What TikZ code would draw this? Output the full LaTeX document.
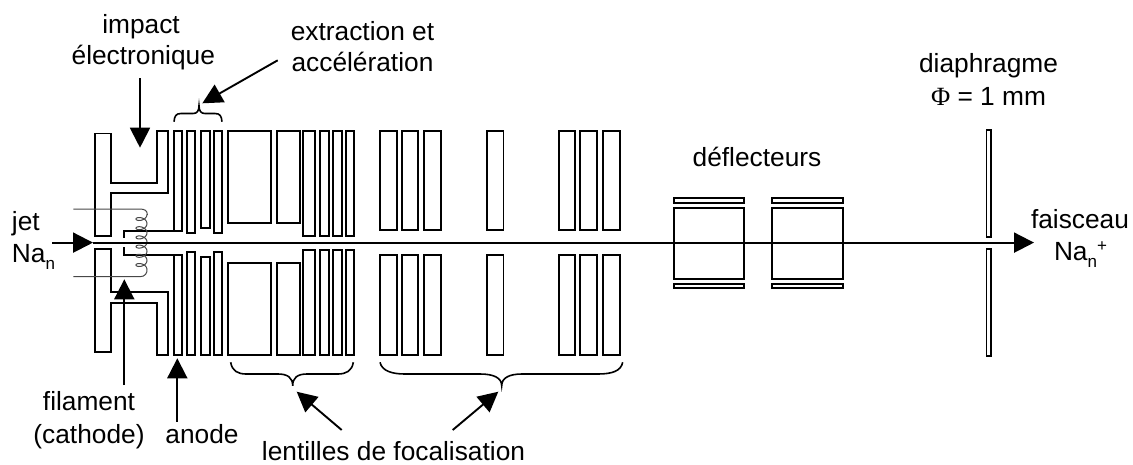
\documentclass[tikz,border=0pt]{standalone}
\usepackage{fontspec}
\setmainfont{Liberation Sans}
\newfontfamily\phifont{Liberation Serif}
\usetikzlibrary{arrows.meta}
\newcommand{\subn}{{\fontsize{17}{17}\selectfont\raisebox{-7pt}{n}}}
\newcommand{\supplus}{{\fontsize{17}{17}\selectfont\raisebox{9pt}{+}}}
\tikzset{
  part/.style={draw=black,line width=1.8pt,line join=miter},
  wire/.style={draw=black!72,line width=1pt},
  brc/.style={draw=black,line width=1.6pt},
  arr/.style={draw=black,line width=1.9pt,-{Triangle[length=20pt,width=20pt]}},
  lbl/.style={inner sep=0pt,outer sep=0pt,font=\fontsize{26.3}{31.5}\selectfont,align=center,anchor=base}
}
\begin{document}
\begin{tikzpicture}[x=1pt,y=-1pt]
\useasboundingbox (0,0) rectangle (1133,464);
% ion source
\draw[part] (95,133.5) -- (111,133.5) -- (111,183) -- (157,183) -- (157,131) -- (168,131) -- (168,193.3) -- (111,193.3) -- (111,236) -- (95,236) -- cycle;
\draw[part] (95,249.3) -- (111,249.3) -- (111,291.7) -- (168,291.7) -- (168,355.3) -- (157,355.3) -- (157,302.7) -- (111,302.7) -- (111,352) -- (95,352) -- cycle;
% extraction electrodes: x0,x1,upper bottom,lower top
\foreach \xa/\xb/\ub/\lt in {174/182.3/230.7/255.3,187.3/195.3/233.3/252.3,201.3/210/228.3/257.3,213.7/222.3/233.3/252.3}{
  \draw[part] (\xa,131) rectangle (\xb,\ub);
  \draw[part] (\xa,\lt) rectangle (\xb,355.3);
}
% lenses
\foreach \xa/\xb/\ub/\lt in {228.3/271/223/262.7,277.3/299.7/223/262.7,302.7/315.3/235.7/250,320.3/329/235.7/250,333.3/342.3/235.7/250,345.7/354.3/235.7/250,380.3/396.7/230.3/255.3,401.7/418.3/230.3/255.3,424.3/441/230.3/255.3,486.7/503.5/230.3/255.3,559/575.3/230.3/255.3,580.3/596.7/230.3/255.3,602.7/619.7/230.3/255.3}{
  \draw[part] (\xa,131) rectangle (\xb,\ub);
  \draw[part] (\xa,\lt) rectangle (\xb,355.3);
}
% repeller lines
\draw[part] (174,230.7) -- (124.3,230.7) -- (124.3,238);
\draw[part] (174,255.3) -- (124.3,255.3) -- (124.3,246.7);
% filament coil
\draw[wire] (73.3,209) -- (140,209) .. controls (145,209) and (147.3,211) .. (147.3,214.4)
  -- plot[smooth,domain=0:2160,samples=145] ({141.5+5.5*cos(\x)},{214.4+\x/360*9.2+3.5*sin(\x)})
  .. controls (147.3,273) and (145,276.7) .. (140,276.7) -- (73.3,276.7);
% deflectors
\foreach \xa/\xb in {674/744.3,771.7/842.7}{
  \draw[part] (\xa,208) rectangle (\xb,278.7);
  \draw[part] (\xa,198.3) rectangle (\xb,202.7);
  \draw[part] (\xa,284) rectangle (\xb,288.3);
}
% diaphragm
\draw[part,line width=1.6pt] (986.3,130) rectangle (991,236.7);
\draw[part,line width=1.6pt] (986.3,249) rectangle (991,355.7);
% beam axis
\coordinate (jetstart) at (52,242.6);
\coordinate (jettip) at (93,242.6);
\coordinate (beamtip) at (1034,242.6);
\draw[arr,line width=2.1pt] (jetstart) -- (jettip);
\draw[arr,line width=2.1pt] (jettip) -- (beamtip);
% braces
\draw[brc] (174,121.7) .. controls (174.5,116) and (176,113.5) .. (181,113.5) -- (193,113.5) .. controls (197,113.5) and (199,111) .. (199,105.7) .. controls (199,111) and (201,113.5) .. (205,113.5) -- (215,113.5) .. controls (220,113.5) and (221.5,116) .. (222,121.7);
\draw[brc] (230.7,362.3) .. controls (232,371) and (238,374) .. (246,374) -- (278,374) .. controls (288,374) and (292.7,378) .. (292.7,385.7) .. controls (292.7,378) and (297,374) .. (307,374) -- (338,374) .. controls (346,374) and (352,371) .. (353.3,362.3);
\draw[brc] (380,362.3) .. controls (382,371) and (392,374) .. (405,374) -- (480,374) .. controls (494,374) and (501.7,378) .. (501.7,385.7) .. controls (501.7,378) and (509,374) .. (522,374) -- (598,374) .. controls (612,374) and (621,371) .. (622.7,362.3);
% pointer arrows
\coordinate (impA) at (140,78);
\coordinate (impB) at (140,147.7);
\coordinate (extA) at (277.7,60.3);
\coordinate (extB) at (202.3,103.3);
\coordinate (filA) at (124.3,385);
\coordinate (filB) at (124.3,279.3);
\coordinate (anoA) at (177.3,421.7);
\coordinate (anoB) at (177.3,358.3);
\coordinate (lenA) at (341.7,430);
\coordinate (lenB) at (296.7,391.7);
\coordinate (lenC) at (452.7,430);
\coordinate (lenD) at (498.3,391.7);
\foreach \p/\q in {impA/impB,extA/extB,filA/filB,anoA/anoB,lenA/lenB,lenC/lenD}{
  \draw[arr] (\p) -- (\q);
}
% labels
\node[lbl] (impact) at (141,33) {impact};
\node[lbl] (electro) at (143.3,64.3) {électronique};
\node[lbl] (extr) at (362.5,40) {extraction et};
\node[lbl] (accel) at (362.5,71.7) {accélération};
\node[lbl] (diaph) at (988.5,72.7) {diaphragme};
\node[lbl] (phi) at (988.5,105) {{\phifont Φ} = 1 mm};
\node[lbl] (defl) at (757,166) {déflecteurs};
\node[lbl,anchor=base west] (jet) at (12,230) {jet};
\node[lbl,anchor=base west] (najet) at (12,262.7) {Na\subn};
\node[lbl] (fais) at (1080,228.3) {faisceau};
\node[lbl] (nabeam) at (1080.5,260.7) {Na\subn\supplus};
\node[lbl] (fila) at (89,410.7) {filament};
\node[lbl] (catho) at (89,443.3) {(cathode)};
\node[lbl] (anode) at (202,443.3) {anode};
\node[lbl] (lent) at (393.5,460) {lentilles de focalisation};
\end{tikzpicture}
\end{document}
